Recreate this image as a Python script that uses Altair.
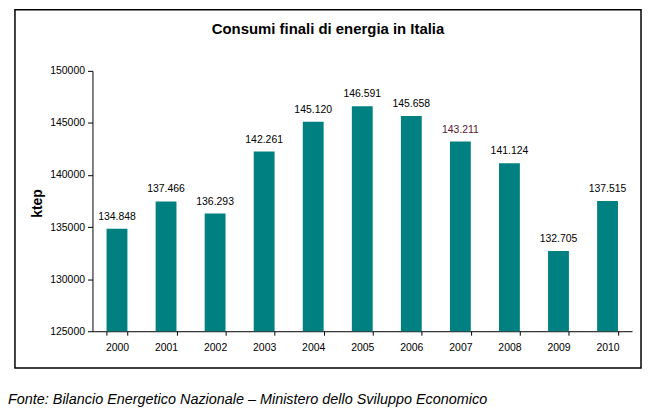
import altair as alt
import pandas as pd

years = ["2000", "2001", "2002", "2003", "2004", "2005", "2006", "2007", "2008", "2009", "2010"]
values = [134848, 137466, 136293, 142261, 145120, 146591, 145658, 143211, 141124, 132705, 137515]
labels = ["134.848", "137.466", "136.293", "142.261", "145.120", "146.591",
          "145.658", "143.211", "141.124", "132.705", "137.515"]
y_ticks = [125000, 130000, 135000, 140000, 145000, 150000]
title_text = "Consumi finali di energia in Italia"
y_title = "ktep"
footer_text = "Fonte: Bilancio Energetico Nazionale \u2013 Ministero dello Sviluppo Economico"

df = pd.DataFrame({"year": years, "value": values, "label": labels})

FONT = "Liberation Sans"
W, H = 543, 262
FS = 10.5

x_enc = alt.X("year:N", sort=years, title=None,
              scale=alt.Scale(paddingInner=0.575, paddingOuter=0.2875),
              axis=alt.Axis(labelAngle=0, tickBand="extent", tickSize=4, labelPadding=7,
                            labelFontSize=FS, labelFont=FONT, labelColor="#000000",
                            domainColor="#000000", tickColor="#000000"))
y_scale = alt.Scale(domain=[125000, 150000], zero=False, nice=False)

base = alt.Chart(df)

bars = base.mark_bar(color="#008080").encode(
    x=x_enc,
    y=alt.Y("value:Q", scale=y_scale, title=y_title,
            axis=alt.Axis(values=y_ticks, format="d", grid=False, tickSize=5, labelPadding=3,
                          labelFontSize=FS, labelFont=FONT, labelColor="#000000",
                          domainColor="#000000", tickColor="#000000",
                          titleFont=FONT, titleFontSize=14, titleFontWeight="bold",
                          titleColor="#000000", titleAngle=-90, titleX=-55, titleY=133,
                          titleAlign="center", titleBaseline="middle")),
    y2=alt.datum(125000),
)

text = base.mark_text(baseline="alphabetic", dy=-9, fontSize=FS, font=FONT).encode(
    x=alt.X("year:N", sort=years),
    y=alt.Y("value:Q", scale=y_scale),
    text="label:N",
    color=alt.condition(alt.datum.year == "2007", alt.value("#5a1433"), alt.value("#000000")),
)

one = pd.DataFrame({"t": [title_text], "f": [footer_text]})

title = alt.Chart(one).mark_text(fontSize=15, fontWeight="bold", font=FONT, align="center",
                                 baseline="alphabetic", color="#000000").encode(
    text="t:N", x=alt.value(237), y=alt.value(-37))

footer = alt.Chart(one).mark_text(fontSize=14.5, fontStyle="italic", font=FONT, align="left",
                                  baseline="alphabetic", color="#000000").encode(
    text="f:N", x=alt.value(-85), y=alt.value(335))

border = alt.Chart(one).mark_rect(filled=False, stroke="#000000", strokeWidth=1.5).encode(
    x=alt.value(-78), x2=alt.value(552), y=alt.value(-61.5), y2=alt.value(299))

chart = alt.layer(border, bars, text, title, footer).properties(
    width=W, height=H,
    autosize=alt.AutoSizeParams(type="none"),
    padding={"left": 85, "top": 62, "right": 12, "bottom": 77},
    background="white",
).configure_view(stroke=None)

chart.save("out.html", embed_options={"renderer": "svg", "actions": False})
